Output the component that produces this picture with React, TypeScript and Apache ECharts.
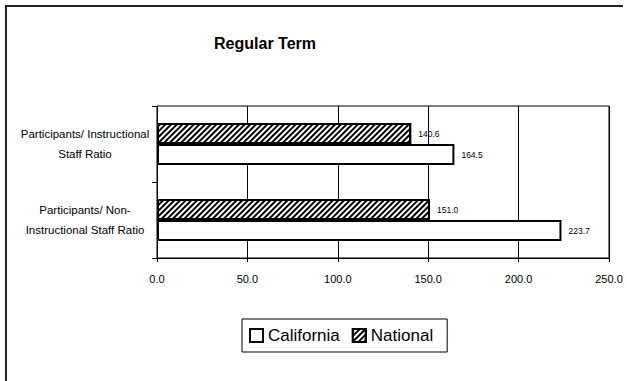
import React, { useEffect, useRef } from "react";
import * as echarts from "echarts";

const categories = [
  "Participants/ Instructional\nStaff Ratio",
  "Participants/ Non-\nInstructional Staff Ratio",
];
const californiaValues = [164.5, 223.7];
const nationalValues = [140.6, 151.0];
const seriesNames = ["California", "National"];
const FONT = "Liberation Sans, Arial, sans-serif";

export default function App() {
  const ref = useRef<HTMLDivElement>(null);
  useEffect(() => {
    if (!ref.current) return;
    const chart = echarts.init(ref.current, null, { renderer: "svg" });
    const labelCfg = {
      show: true,
      position: "right" as const,
      distance: 7,
      fontSize: 8.5,
      color: "#000",
      fontFamily: FONT,
      formatter: (p: any) => Number(p.value).toFixed(1),
    };
    chart.setOption({
      animation: false,
      backgroundColor: "#fff",
      textStyle: { fontFamily: FONT },
      title: {
        text: "Regular Term",
        left: 260,
        top: 30,
        textAlign: "center",
        textStyle: { fontSize: 16, fontWeight: "bold", color: "#000", fontFamily: FONT },
      },
      legend: {
        data: seriesNames,
        left: 242,
        top: 319,
        orient: "horizontal",
        icon: "rect",
        itemWidth: 13,
        itemHeight: 13,
        itemGap: 12,
        padding: [8, 14, 8, 7],
        borderColor: "#000",
        borderWidth: 1,
        textStyle: { fontSize: 17, color: "#000", fontFamily: FONT },
      },
      grid: {
        left: 157,
        top: 106,
        right: 18,
        bottom: 123,
        show: true,
        borderColor: "#000",
        borderWidth: 1,
        backgroundColor: "transparent",
      },
      xAxis: {
        type: "value",
        min: 0,
        max: 250,
        interval: 50,
        axisLine: { show: true, lineStyle: { color: "#000", width: 1 } },
        axisTick: { show: true, length: 4, lineStyle: { color: "#000" } },
        splitLine: { show: true, lineStyle: { color: "#000", width: 1 } },
        axisLabel: {
          formatter: (v: number) => v.toFixed(1),
          fontSize: 11,
          color: "#000",
          margin: 15,
          fontFamily: FONT,
        },
      },
      yAxis: {
        type: "category",
        data: categories,
        inverse: true,
        axisLine: { show: true, lineStyle: { color: "#000", width: 1 } },
        axisTick: { show: true, length: 5, alignWithLabel: false, lineStyle: { color: "#000" } },
        splitLine: { show: false },
        axisLabel: {
          align: "center",
          margin: 72,
          fontSize: 11.5,
          lineHeight: 20,
          color: "#000",
          fontFamily: FONT,
        },
      },
      series: [
        {
          name: "National",
          type: "bar",
          data: nationalValues,
          barWidth: 21,
          barGap: "0%",
          itemStyle: {
            color: "#fff",
            borderColor: "#000",
            borderWidth: 2,
            decal: {
              symbol: "rect",
              symbolSize: 1,
              dashArrayX: [1, 0],
              dashArrayY: [2, 1.2],
              rotation: -Math.PI / 4,
              color: "#000",
              backgroundColor: "#fff",
            },
          },
          label: labelCfg,
        },
        {
          name: "California",
          type: "bar",
          data: californiaValues,
          barWidth: 21,
          barGap: "0%",
          itemStyle: { color: "#fff", borderColor: "#000", borderWidth: 2 },
          label: labelCfg,
        },
      ],
      graphic: [
        {
          type: "polyline",
          shape: { points: [[6, 390], [6, 6], [623, 6]] },
          style: { stroke: "#222", lineWidth: 2, fill: "none" },
          silent: true,
        },
      ],
    });
    return () => chart.dispose();
  }, []);
  return (
    <div
      ref={ref}
      style={{ position: "absolute", left: 0, top: 0, width: 627, height: 381 }}
    />
  );
}
